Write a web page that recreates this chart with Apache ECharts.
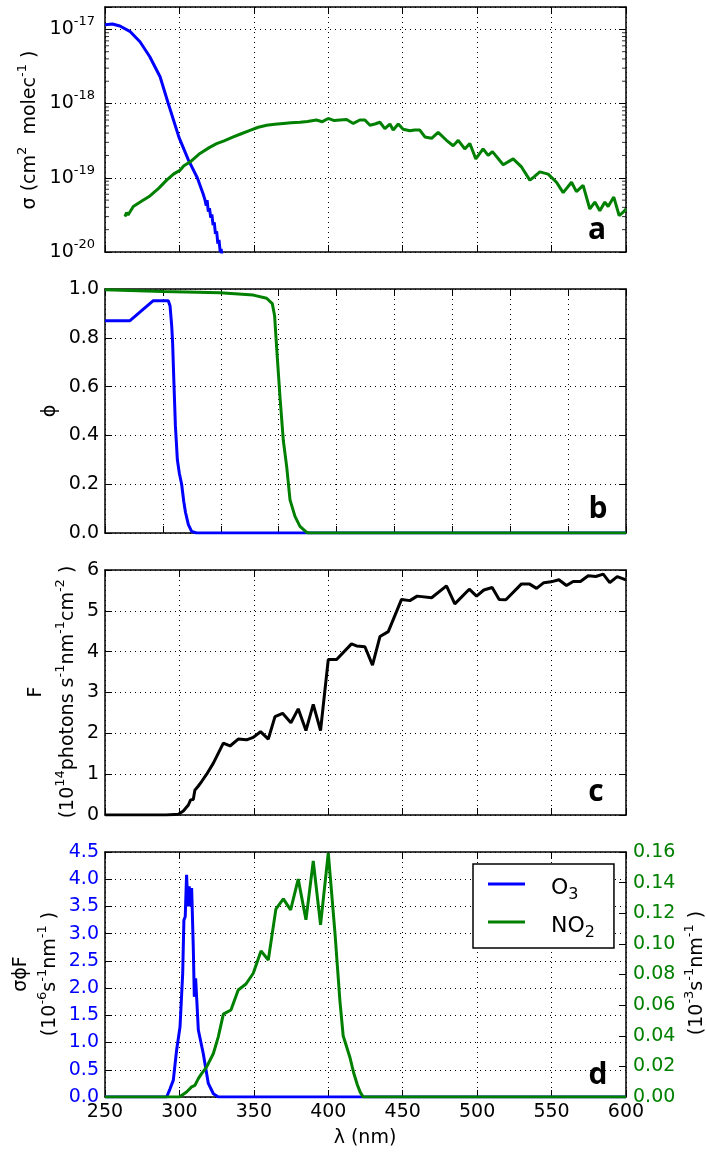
<!DOCTYPE html>
<html><head><meta charset="utf-8">
<script src="https://cdn.jsdelivr.net/npm/echarts@6/dist/echarts.min.js"></script>
<style>html,body{margin:0;padding:0;background:#fff}#c{width:706px;height:1152px}</style>
</head><body><div id="c"></div>
<script>
// ---------- data (wavelength nm, value) ----------
const xMin = 250, xMax = 600, xMaxPhi = 700;
const xTickStep = 50;
// panel a: cross sections (cm2 molec-1)
const o3Sigma = [[250,1.15e-17],[255,1.18e-17],[260,1.11e-17],[267,9.3e-18],[273.5,6.8e-18],[280,4.3e-18],[287,2.3e-18],[292.5,1.0e-18],[299.7,3.5e-19],[306,1.74e-19],[312,1.0e-19],[316,6.0e-20],[317.2,5.0e-20],[318,4.2e-20],[318.6,5.0e-20],[319.4,3.5e-20],[320.2,3.9e-20],[321,2.9e-20],[321.8,3.2e-20],[322.6,2.3e-20],[323.4,2.5e-20],[324.2,1.75e-20],[325,1.9e-20],[325.8,1.3e-20],[326.6,1.45e-20],[327.4,1.0e-20],[328,1.1e-20],[328.6,0.9e-20]];
const no2Sigma = [[263.4,3.0e-20],[264.5,3.4e-20],[265.5,3.15e-20],[269,4.1e-20],[275,4.9e-20],[280.2,5.7e-20],[286,7.2e-20],[291.4,9.3e-20],[296,1.12e-19],[298.5,1.2e-19],[300.4,1.26e-19],[303,1.45e-19],[307.1,1.63e-19],[313.8,2.13e-19],[320,2.55e-19],[325,2.88e-19],[330,3.15e-19],[336.2,3.55e-19],[342,3.95e-19],[347.4,4.36e-19],[353,4.8e-19],[358.6,5.1e-19],[364,5.25e-19],[369.8,5.4e-19],[375,5.5e-19],[381,5.6e-19],[386,5.75e-19],[392,6.0e-19],[396,5.7e-19],[400,6.3e-19],[404,5.9e-19],[407.8,6.0e-19],[412.3,6.1e-19],[416.8,5.4e-19],[421.2,6.0e-19],[424.6,6.0e-19],[428,5.1e-19],[431.3,5.3e-19],[434.7,5.6e-19],[438,4.6e-19],[441.4,5.3e-19],[443.6,4.4e-19],[447,5.3e-19],[450.3,4.5e-19],[454.8,4.3e-19],[458,4.4e-19],[461.5,4.4e-19],[464.9,3.55e-19],[469.4,3.4e-19],[473.8,4.1e-19],[479.4,3.2e-19],[483.9,2.7e-19],[487.3,3.2e-19],[491.7,2.45e-19],[495.1,2.9e-19],[499.1,1.8e-19],[504,2.45e-19],[507.4,2.0e-19],[510.3,2.25e-19],[517.5,1.5e-19],[524.2,1.8e-19],[529.8,1.4e-19],[535.4,9.3e-20],[538.8,1.05e-19],[542.1,1.2e-19],[547.7,1.12e-19],[553.3,8.7e-20],[557.8,6.3e-20],[563.4,8.7e-20],[566.7,6.5e-20],[571.2,7.9e-20],[575.7,3.8e-20],[579.1,4.7e-20],[582.4,3.6e-20],[585.8,4.7e-20],[588,4.1e-20],[591.8,5.5e-20],[595.4,3.1e-20],[598.5,3.5e-20],[600,3.8e-20]];
const sigmaMinorTicks = [2e-20,3e-20,4e-20,5e-20,6e-20,7e-20,8e-20,9e-20,2e-19,3e-19,4e-19,5e-19,6e-19,7e-19,8e-19,9e-19,2e-18,3e-18,4e-18,5e-18,6e-18,7e-18,8e-18,9e-18];
// panel b: quantum yields
const o3Phi = [[250,0.87],[271.6,0.87],[291.7,0.952],[304.7,0.952],[306.2,0.93],[307.6,0.85],[308.4,0.78],[309.5,0.62],[310.8,0.44],[312.5,0.30],[314.2,0.245],[316.2,0.20],[318,0.13],[319.5,0.085],[322,0.034],[324.8,0.007],[329,0],[700,0]];
const no2Phi = [[250,0.997],[300,0.99],[349.3,0.985],[378.1,0.975],[389.6,0.962],[394.5,0.94],[396.5,0.89],[398.2,0.764],[401.1,0.56],[404,0.38],[406.9,0.273],[409.8,0.136],[414.1,0.068],[418.4,0.027],[424.2,0.003],[426,0],[700,0]];
// panel c: actinic flux (1e14 photons s-1 nm-1 cm-2)
const flux = [[250,0],[291,0],[299.3,0.02],[302.6,0.1],[306,0.245],[307.5,0.37],[309.3,0.38],[310.4,0.61],[312.7,0.71],[314.9,0.82],[318.3,1.0],[322.8,1.27],[329.5,1.76],[334,1.69],[339.5,1.86],[345.1,1.84],[349.6,1.90],[354.5,2.04],[359.7,1.86],[364.2,2.41],[369.3,2.49],[374.9,2.26],[379.8,2.60],[385,2.07],[389.9,2.71],[394.8,2.07],[400,3.81],[405.6,3.81],[415.6,4.19],[419,4.14],[424.6,4.12],[429.7,3.67],[434.7,4.37],[440.3,4.49],[449.2,5.28],[454.8,5.25],[459.7,5.36],[469.4,5.32],[479.4,5.61],[485,5.17],[494.7,5.53],[499.6,5.36],[504.5,5.51],[510.1,5.57],[514.8,5.28],[519.3,5.27],[529.8,5.66],[535,5.66],[539.9,5.55],[544.8,5.69],[549.7,5.71],[554.9,5.76],[560,5.62],[564.5,5.72],[569.4,5.72],[574.6,5.86],[579.7,5.84],[584.7,5.90],[589.1,5.69],[594.1,5.84],[600,5.76]];
// panel d: photolysis rate spectra
const o3J = [[250,0],[291.4,0],[293.7,0.15],[295.9,0.31],[298.1,0.86],[300.4,1.29],[302.2,2.27],[303,3.25],[303.9,3.31],[304.8,4.08],[305.7,3.50],[306.6,3.87],[307.5,3.50],[308.2,3.84],[309.3,2.76],[310,1.84],[310.9,2.18],[311.6,1.81],[312.7,1.23],[316,0.80],[319.4,0.25],[322.8,0.06],[326.1,0],[600,0]];
const no2J = [[250,0],[300,0],[304.8,0.0033],[308.2,0.0066],[310.4,0.0076],[312.7,0.012],[314.9,0.0153],[318.3,0.0197],[322.8,0.0284],[326.1,0.0393],[329.5,0.0541],[334.6,0.0568],[339.5,0.0699],[344.7,0.0738],[349.6,0.0808],[354.8,0.0954],[359.7,0.0895],[364.8,0.1227],[369.8,0.1294],[374.7,0.1222],[379.8,0.1423],[385,0.1157],[389.9,0.1541],[394.8,0.1124],[400,0.1594],[404.5,0.107],[407.8,0.063],[410,0.04],[414.5,0.026],[417,0.016],[419.5,0.008],[421.5,0.003],[423.5,0],[600,0]];

// ---------- styling ----------
const FONT = 'DejaVu Sans';
const BLUE = '#0000ff', GREEN = '#008000';
const gridDash = [1, 4];
const axisLineStyle = {show: true, onZero: false, lineStyle: {color: '#000', width: 1.5}};
const tickStyle = {show: true, inside: true, length: 7, lineStyle: {color: '#000', width: 1}};
const splitStyle = {show: true, lineStyle: {color: '#000', width: 1, type: gridDash}};
const grids = [
  {left: 105, right: 80, top: 7, height: 245},
  {left: 105, right: 80, top: 289, height: 244},
  {left: 105, right: 80, top: 570, height: 245},
  {left: 105, right: 80, top: 852, height: 245}
];
function xAx(g, max, labels) {
  return [{
    type: 'value', gridIndex: g, min: xMin, max: max, interval: xTickStep, position: 'bottom',
    axisLine: axisLineStyle, axisTick: tickStyle, splitLine: splitStyle,
    axisLabel: {show: labels, color: '#000', fontSize: 19, fontFamily: FONT, margin: 6, showMinLabel: true, showMaxLabel: true}
  }, {
    type: 'value', gridIndex: g, min: xMin, max: max, interval: xTickStep, position: 'top',
    axisLine: axisLineStyle, axisTick: tickStyle, splitLine: {show: false}, axisLabel: {show: false}
  }];
}
function yAx(g, min, max, interval, fmt, color) {
  return [{
    type: 'value', gridIndex: g, min: min, max: max, interval: interval, position: 'left',
    axisLine: axisLineStyle, axisTick: tickStyle, splitLine: splitStyle,
    axisLabel: {color: color, fontSize: 19, fontFamily: FONT, margin: 6, formatter: fmt, showMinLabel: true, showMaxLabel: true}
  }, {
    type: 'value', gridIndex: g, min: min, max: max, interval: interval, position: 'right',
    axisLine: axisLineStyle, axisTick: tickStyle, splitLine: {show: false}, axisLabel: {show: false}
  }];
}
const supRich = {sup: {fontSize: 13, fontFamily: FONT, verticalAlign: 'top', lineHeight: 13}};
function logFmt(v) {
  const l = Math.log10(v), e = Math.round(l);
  if (Math.abs(l - e) > 0.01) return '';
  return '10{sup|' + e + '}';
}
const logAxisCommon = {type: 'log', logBase: 10, gridIndex: 0, min: 1e-20, max: 2e-17,
  axisLine: axisLineStyle, axisTick: tickStyle};

const xAxes = [].concat(xAx(0, xMax, false), xAx(1, xMaxPhi, false), xAx(2, xMax, false), xAx(3, xMax, true));
const yAxes = [
  Object.assign({}, logAxisCommon, {position: 'left', splitLine: splitStyle,
    axisLabel: {color: '#000', fontSize: 19, fontFamily: FONT, margin: 10, lineHeight: 28, formatter: logFmt, rich: supRich, showMinLabel: true, showMaxLabel: true}}),
  Object.assign({}, logAxisCommon, {position: 'right', splitLine: {show: false}, axisLabel: {show: false}})
].concat(
  yAx(1, 0, 1, 0.2, v => v.toFixed(1), '#000'),
  yAx(2, 0, 6, 1, v => String(v), '#000'),
  yAx(3, 0, 4.5, 0.5, v => v.toFixed(1), BLUE)
);
// right axis of panel d carries the NO2 scale
yAxes[7] = {
  type: 'value', gridIndex: 3, min: 0, max: 0.16, interval: 0.02, position: 'right',
  axisLine: axisLineStyle, axisTick: tickStyle, splitLine: {show: false},
  axisLabel: {color: GREEN, fontSize: 19, fontFamily: FONT, margin: 7, formatter: v => v.toFixed(2), showMinLabel: true, showMaxLabel: true}
};

function line(name, data, xi, yi, color) {
  return {name: name, type: 'line', xAxisIndex: xi, yAxisIndex: yi, data: data, showSymbol: false, symbol: 'none',
    lineStyle: {color: color, width: 3}, itemStyle: {color: color}, silent: true, z: 3};
}
function minorTicks(xv, off) {
  return {type: 'scatter', xAxisIndex: 0, yAxisIndex: 0, data: sigmaMinorTicks.map(v => [xv, v]),
    symbol: 'rect', symbolSize: [4, 1], symbolOffset: [off, 0], itemStyle: {color: '#000'}, silent: true, z: 4, clip: false};
}
const series = [
  line('O3', o3Sigma, 0, 0, BLUE),
  line('NO2', no2Sigma, 0, 0, GREEN),
  minorTicks(xMin, 2), minorTicks(xMax, -2),
  line('O3', o3Phi, 2, 2, BLUE),
  line('NO2', no2Phi, 2, 2, GREEN),
  line('F', flux, 4, 4, '#000'),
  line('O3', o3J, 6, 6, BLUE),
  line('NO2', no2J, 6, 7, GREEN)
];

function vtext(x, y, text, size) {
  return {type: 'text', x: x, y: y, rotation: Math.PI / 2, silent: true, z: 10,
    style: {text: text, fill: '#000', fontSize: size || 19, fontFamily: FONT, lineHeight: 28,
      align: 'center', verticalAlign: 'middle', rich: supRich}};
}
function letter(x, y, t) {
  return {type: 'text', x: x, y: y, silent: true, z: 10,
    style: {text: t, fill: '#000', fontSize: 30, fontWeight: 'bold', fontFamily: 'Open Sans', align: 'center', verticalAlign: 'middle'}};
}
const graphics = [
  vtext(30, 130, 'σ (cm{sup|2}  molec{sup|-1} )'),
  vtext(50, 411, 'ϕ'),
  vtext(36, 692, 'F'),
  vtext(68.5, 692, '(10{sup|14}photons s{sup|-1}nm{sup|-1}cm{sup|-2} )'),
  vtext(21.5, 974, 'σϕF'),
  vtext(50, 974, '(10{sup|-6}s{sup|-1}nm{sup|-1} )'),
  vtext(697, 973, '(10{sup|-3}s{sup|-1}nm{sup|-1} )'),
  {type: 'text', x: 365, y: 1138, silent: true, z: 10,
    style: {text: 'λ (nm)', fill: '#000', fontSize: 19, fontFamily: FONT, align: 'center', verticalAlign: 'middle'}},
  letter(597, 230, 'a'),
  letter(598, 509, 'b'),
  letter(596, 792, 'c'),
  letter(598, 1075, 'd')
];

const chart = echarts.init(document.getElementById('c'), null, {renderer: 'canvas'});
chart.setOption({
  animation: false,
  backgroundColor: '#fff',
  textStyle: {fontFamily: FONT},
  grid: grids,
  xAxis: xAxes,
  yAxis: yAxes,
  legend: {
    data: [{name: 'O3', icon: 'rect'}, {name: 'NO2', icon: 'rect'}],
    orient: 'vertical', left: 473, top: 864,
    padding: [1, 19, 7, 15], itemGap: 0, itemWidth: 37, itemHeight: 3,
    backgroundColor: '#fff', borderColor: '#000', borderWidth: 1.5, borderRadius: 0,
    selectedMode: false,
    formatter: n => n === 'O3' ? 'O{sub|3}' : 'NO{sub|2}',
    textStyle: {color: '#000', fontSize: 22, fontFamily: FONT, lineHeight: 30, padding: [8, 0, 0, 21],
      rich: {sub: {fontSize: 16, fontFamily: FONT, verticalAlign: 'bottom', lineHeight: 16}}},
    z: 20
  },
  series: series,
  graphic: graphics
});
</script></body></html>
